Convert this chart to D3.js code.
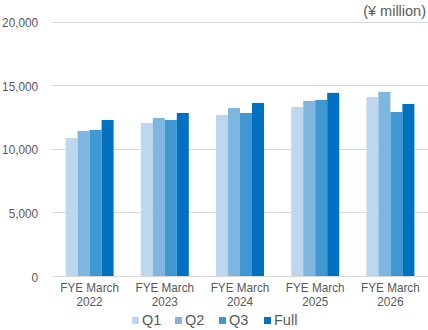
<!DOCTYPE html>
<html>
<head>
<meta charset="utf-8">
<script src="https://cdn.jsdelivr.net/npm/d3@7"></script>
<style>
  body { margin: 0; background: #fff; }
  text { font-family: "Liberation Sans", Arial, sans-serif; }
</style>
</head>
<body>
<div id="chart"></div>
<script>
// data
const years = ["2022", "2023", "2024", "2025", "2026"];
const series = ["Q1", "Q2", "Q3", "Full"];
const q1 = [10850, 12030, 12660, 13290, 14070];
const q2 = [11400, 12420, 13200, 13760, 14470];
const q3 = [11480, 12260, 12810, 13840, 12890];
const full = [12260, 12810, 13600, 14390, 13520];
const yTicks = [0, 5000, 10000, 15000, 20000];
const colors = ["#bdd7ee", "#7fb6df", "#4097d1", "#0070c0"];

const values = [q1, q2, q3, full];
const sx = 0.87;   // labels in the picture are a bit narrow

var svg = d3.select("#chart").append("svg")
    .attr("width", 428)
    .attr("height", 330);

//scales
var x = d3.scaleBand()
    .domain(years)
    .range([52, 428]);

var xInner = d3.scaleBand()
    .domain(series)
    .range([0, 48]);

var y = d3.scaleLinear()
    .domain([0, 20000])
    .range([276, 21.5]);

//gridlines
svg.append("g")
    .selectAll("line")
    .data(yTicks)
    .enter()
    .append("line")
    .attr("x1", 52)
    .attr("x2", 428)
    .attr("y1", d => Math.round(y(d)) + 0.5)
    .attr("y2", d => Math.round(y(d)) + 0.5)
    .attr("stroke", "#d9d9d9")
    .attr("stroke-width", 1);

//y axis labels
svg.append("g")
    .selectAll("text")
    .data(yTicks)
    .enter()
    .append("text")
    .attr("transform", d => "translate(38," + (y(d) + 5.5) + ") scale(" + sx + ",1)")
    .attr("text-anchor", "end")
    .attr("fill", "#595959")
    .style("font-size", "13.5px")
    .text(d => d3.format(",")(d));

//unit label
svg.append("text")
    .attr("x", 426)
    .attr("y", 16)
    .attr("text-anchor", "end")
    .attr("fill", "#595959")
    .style("font-size", "14.5px")
    .text("(¥ million)");

//bars
series.forEach(function(s, si) {
    svg.append("g")
        .selectAll("rect")
        .data(values[si])
        .enter()
        .append("rect")
        .attr("x", (d, i) => x(years[i]) + x.bandwidth() / 2 - 24 + xInner(s))
        .attr("y", d => y(d))
        .attr("width", xInner.bandwidth())
        .attr("height", d => y(0) - y(d))
        .attr("fill", colors[si]);
});

//x axis labels, two lines each
var xl = svg.append("g")
    .selectAll("g")
    .data(years)
    .enter()
    .append("g")
    .attr("transform", d => "translate(" + (x(d) + x.bandwidth() / 2) + ",0) scale(" + sx + ",1)");
xl.append("text")
    .attr("y", 292)
    .attr("text-anchor", "middle")
    .attr("fill", "#595959")
    .style("font-size", "13.5px")
    .text("FYE March");
xl.append("text")
    .attr("y", 306)
    .attr("text-anchor", "middle")
    .attr("fill", "#595959")
    .style("font-size", "13.5px")
    .text(d => d);

//legend
var legX = [132, 175, 219, 264];
var leg = svg.append("g")
    .selectAll("g")
    .data(series)
    .enter()
    .append("g")
    .attr("transform", (d, i) => "translate(" + legX[i] + ",0)");
leg.append("rect")
    .attr("x", 0)
    .attr("y", 317)
    .attr("width", 7)
    .attr("height", 7)
    .attr("fill", (d, i) => colors[i]);
leg.append("text")
    .attr("x", 10)
    .attr("y", 325)
    .attr("fill", "#595959")
    .style("font-size", "14.5px")
    .text(d => d);
</script>
</body>
</html>
